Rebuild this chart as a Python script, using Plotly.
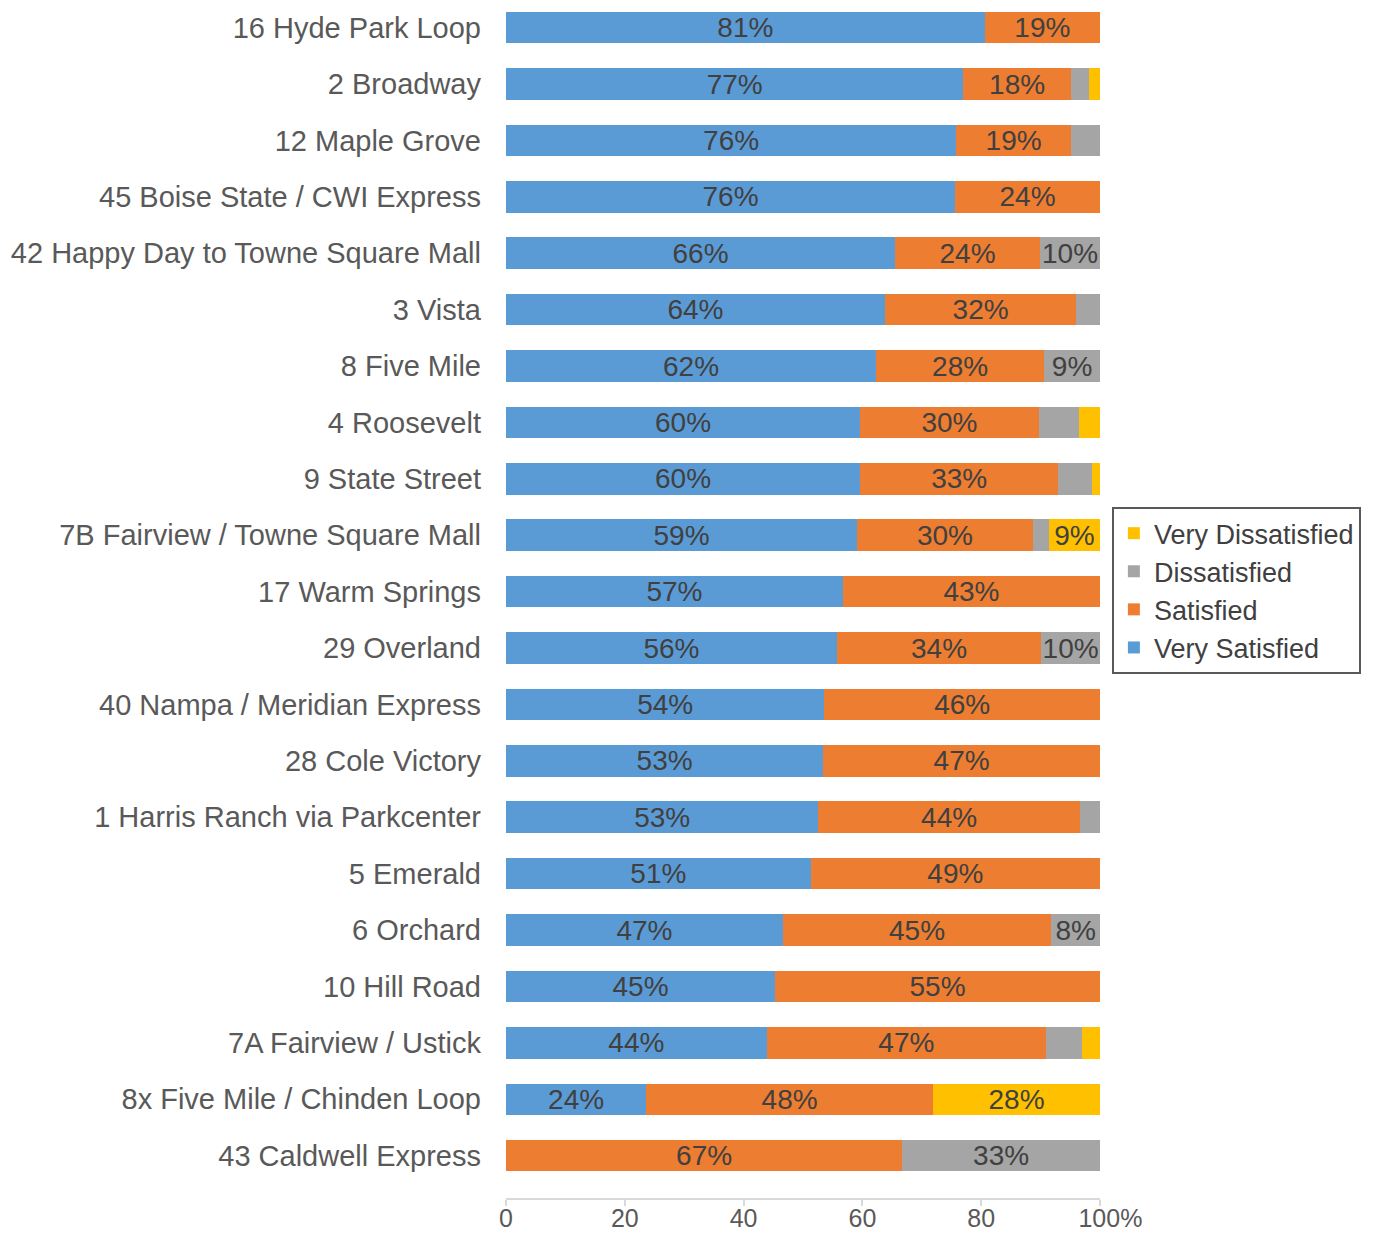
import plotly.graph_objects as go

routes = ["16 Hyde Park Loop", "2 Broadway", "12 Maple Grove", "45 Boise State / CWI Express",
          "42 Happy Day to Towne Square Mall", "3 Vista", "8 Five Mile", "4 Roosevelt",
          "9 State Street", "7B Fairview / Towne Square Mall", "17 Warm Springs", "29 Overland",
          "40 Nampa / Meridian Express", "28 Cole Victory", "1 Harris Ranch via Parkcenter",
          "5 Emerald", "6 Orchard", "10 Hill Road", "7A Fairview / Ustick",
          "8x Five Mile / Chinden Loop", "43 Caldwell Express"]

very_satisfied = [80.6, 77.0, 75.8, 75.6, 65.5, 63.8, 62.3, 59.6, 59.6, 59.1, 56.7, 55.7,
                  53.6, 53.4, 52.6, 51.3, 46.6, 45.3, 43.9, 23.6, 0.0]
satisfied = [19.4, 18.1, 19.3, 24.4, 24.4, 32.2, 28.3, 30.1, 33.4, 29.6, 43.3, 34.4,
             46.4, 46.6, 44.0, 48.7, 45.2, 54.7, 47.0, 48.3, 66.7]
dissatisfied = [0.0, 3.0, 4.9, 0.0, 10.1, 4.0, 9.4, 6.8, 5.7, 2.7, 0.0, 9.9,
                0.0, 0.0, 3.4, 0.0, 8.2, 0.0, 6.1, 0.0, 33.3]
very_dissatisfied = [0.0, 1.9, 0.0, 0.0, 0.0, 0.0, 0.0, 3.5, 1.3, 8.6, 0.0, 0.0,
                     0.0, 0.0, 0.0, 0.0, 0.0, 0.0, 3.0, 28.1, 0.0]

x_ticks = [0, 20, 40, 60, 80, 100]
x_ticktext = ["0", "20", "40", "60", "80", "\u00a0\u00a0\u00a0100%"]

series = [
    ("Very Satisfied", very_satisfied, "#5B9BD5"),
    ("Satisfied", satisfied, "#ED7D31"),
    ("Dissatisfied", dissatisfied, "#A5A5A5"),
    ("Very Dissatisfied", very_dissatisfied, "#FFC000"),
]

FONT = "Liberation Sans, Arial, sans-serif"

fig = go.Figure()
for name, vals, color in series:
    labels = [f"{round(v)}%" if v >= 7.5 else "" for v in vals]
    fig.add_trace(go.Bar(
        y=routes, x=vals, name=name, orientation="h",
        marker=dict(color=color, line=dict(width=0)),
        text=labels, textposition="inside", insidetextanchor="middle", textangle=0,
        insidetextfont=dict(family=FONT, size=28, color="#404040"),
        hoverinfo="x+y+name",
    ))

fig.update_layout(
    barmode="stack",
    bargap=0.44,
    width=1381, height=1233,
    margin=dict(l=506, r=281, t=0, b=35, autoexpand=False),
    plot_bgcolor="white", paper_bgcolor="white",
    font=dict(family=FONT, size=28, color="#595959"),
    uniformtext=dict(minsize=28, mode="show"),
    legend=dict(
        traceorder="reversed",
        x=1.02, xanchor="left", y=0.507, yanchor="middle",
        bordercolor="#595959", borderwidth=2,
        font=dict(family=FONT, size=27, color="#404040"),
        tracegroupgap=0,
    ),
    showlegend=True,
)
fig.update_xaxes(
    range=[0, 100], tickvals=x_ticks, ticktext=x_ticktext,
    showgrid=False, zeroline=False,
    showline=True, linecolor="#D9D9D9", linewidth=2,
    ticks="outside", tickcolor="#D9D9D9", ticklen=6, tickwidth=2,
    ticklabelstandoff=-9,
    tickfont=dict(family=FONT, size=25, color="#595959"),
)
fig.update_yaxes(
    categoryorder="array", categoryarray=routes,
    range=[20.75, -0.49],
    showgrid=False, zeroline=False, showline=False, ticks="",
    ticklabelstandoff=24,
    tickfont=dict(family=FONT, size=29, color="#595959"),
)

fig.write_html("out.html", config={"displayModeBar": False},
               post_script="document.body.style.margin='0';document.body.style.overflow='hidden';")
